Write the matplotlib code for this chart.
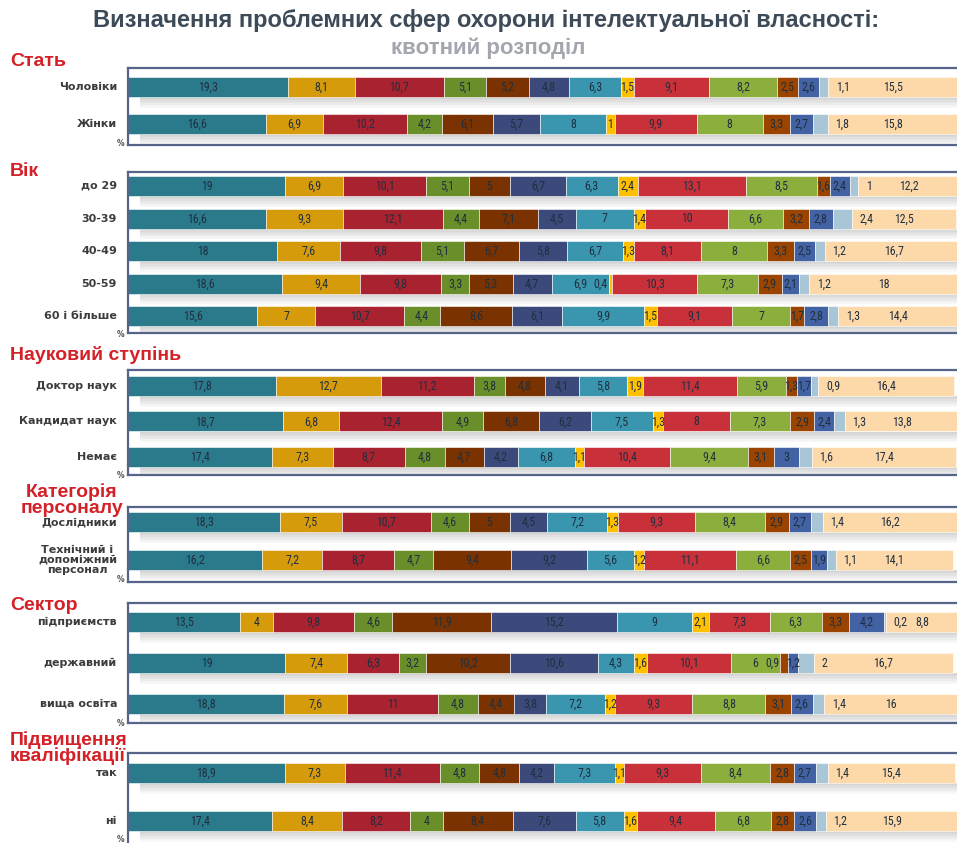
import matplotlib
matplotlib.use("Agg")
import matplotlib.pyplot as plt
from matplotlib import font_manager

# ---------------- data ----------------
sex_labels = ["Чоловіки", "Жінки"]
sex_values = [
    [19.3, 8.1, 10.7, 5.1, 5.2, 4.8, 6.3, 1.5, 9.1, 8.2, 2.5, 2.6, 1.1, 15.5],
    [16.6, 6.9, 10.2, 4.2, 6.1, 5.7, 8, 1, 9.9, 8, 3.3, 2.7, 1.8, 15.8],
]
age_labels = ["до 29", "30-39", "40-49", "50-59", "60 і більше"]
age_values = [
    [19, 6.9, 10.1, 5.1, 5, 6.7, 6.3, 2.4, 13.1, 8.5, 1.6, 2.4, 1, 12.2],
    [16.6, 9.3, 12.1, 4.4, 7.1, 4.5, 7, 1.4, 10, 6.6, 3.2, 2.8, 2.4, 12.5],
    [18, 7.6, 9.8, 5.1, 6.7, 5.8, 6.7, 1.3, 8.1, 8, 3.3, 2.5, 1.2, 16.7],
    [18.6, 9.4, 9.8, 3.3, 5.3, 4.7, 6.9, 0.4, 10.3, 7.3, 2.9, 2.1, 1.2, 18],
    [15.6, 7, 10.7, 4.4, 8.6, 6.1, 9.9, 1.5, 9.1, 7, 1.7, 2.8, 1.3, 14.4],
]
degree_labels = ["Доктор наук", "Кандидат наук", "Немає"]
degree_values = [
    [17.8, 12.7, 11.2, 3.8, 4.8, 4.1, 5.8, 1.9, 11.4, 5.9, 1.3, 1.7, 0.9, 16.4],
    [18.7, 6.8, 12.4, 4.9, 6.8, 6.2, 7.5, 1.3, 8, 7.3, 2.9, 2.4, 1.3, 13.8],
    [17.4, 7.3, 8.7, 4.8, 4.7, 4.2, 6.8, 1.1, 10.4, 9.4, 3.1, 3, 1.6, 17.4],
]
staff_labels = ["Дослідники", "Технічний і\nдопоміжний\nперсонал"]
staff_values = [
    [18.3, 7.5, 10.7, 4.6, 5, 4.5, 7.2, 1.3, 9.3, 8.4, 2.9, 2.7, 1.4, 16.2],
    [16.2, 7.2, 8.7, 4.7, 9.4, 9.2, 5.6, 1.2, 11.1, 6.6, 2.5, 1.9, 1.1, 14.1],
]
sector_labels = ["підприємств", "державний", "вища освіта"]
sector_values = [
    [13.5, 4, 9.8, 4.6, 11.9, 15.2, 9, 2.1, 7.3, 6.3, 3.3, 4.2, 0.2, 8.8],
    [19, 7.4, 6.3, 3.2, 10.2, 10.6, 4.3, 1.6, 10.1, 6, 0.9, 1.2, 2, 16.7],
    [18.8, 7.6, 11, 4.8, 4.4, 3.8, 7.2, 1.2, 9.3, 8.8, 3.1, 2.6, 1.4, 16],
]
train_labels = ["так", "ні"]
train_values = [
    [18.9, 7.3, 11.4, 4.8, 4.8, 4.2, 7.3, 1.1, 9.3, 8.4, 2.8, 2.7, 1.4, 15.4],
    [17.4, 8.4, 8.2, 4, 8.4, 7.6, 5.8, 1.6, 9.4, 6.8, 2.8, 2.6, 1.2, 15.9],
]
group_titles = ["Стать", "Вік", "Науковий ступінь", "Категорія\nперсоналу",
                "Сектор", "Підвищення\nкваліфікації"]

colors = ["#2B7A8B", "#D59B0B", "#A82230", "#6A8E2A", "#7A3300", "#3B4A7A",
          "#3A95AF", "#FFC000", "#C8313A", "#8BAE3D", "#9A4400", "#4262A3",
          "#A9C6D6", "#FDD8A8"]

# ---------------- layout (pixels) ----------------
W, H = 957, 843
# panel top, panel bottom, first row centre offset, row spacing
layout = [
    (68, 145, 19, 37),
    (172, 333, 14, 32.5),
    (370, 475, 16, 35.5),
    (507, 582, 15, 38),
    (603, 723, 19, 41),
    (753, 860, 20, 48),
]
title_pos = [(10, 62), (10, 171), (10, 355), (72, 500), (10, 606), (10, 748)]
groups = [
    (sex_labels, sex_values),
    (age_labels, age_values),
    (degree_labels, degree_values),
    (staff_labels, staff_values),
    (sector_labels, sector_values),
    (train_labels, train_values),
]

avail = {f.name for f in font_manager.fontManager.ttflist}
narrow_list = [f for f in ["Liberation Sans Narrow", "DejaVu Sans Condensed",
                           "Roboto Condensed", "Open Sans Condensed"] if f in avail]
narrow = narrow_list + ["DejaVu Sans"]
label_fs = 8.6 if narrow_list else 7.0

fig = plt.figure(figsize=(W / 100, H / 100), dpi=100)
fig.patch.set_facecolor("white")

fig.text(486 / W, 1 - 20 / H,
         "Визначення проблемних сфер охорони інтелектуальної власності:",
         ha="center", va="center", fontsize=17, fontweight="bold",
         color="#3D4A58", family=["Liberation Sans", "DejaVu Sans"])
fig.text(488 / W, 1 - 48 / H, "квотний розподіл", ha="center", va="center",
         fontsize=16, fontweight="bold", color="#A3A6AE",
         family=["Liberation Sans", "DejaVu Sans"])

left_px = 128
bar_h = 20
for gi, ((labels, values), (top, bot, off, sp)) in enumerate(zip(groups, layout)):
    ph = bot - top
    ax = fig.add_axes([left_px / W, 1 - bot / H, (W - left_px + 4) / W, ph / H])
    ax.set_xlim(0, 100.5)
    ax.set_ylim(ph, 0)
    ax.set_xticks([])
    ax.set_yticks([])
    for s in ax.spines.values():
        s.set_color("#56648A")
        s.set_linewidth(1.6)
    ys = [off + i * sp for i in range(len(labels))]
    for y, row, lab in zip(ys, values, labels):
        # shadow under the bar
        for k in range(7):
            ax.barh(y + bar_h / 2 + 1 + k * 1.5, 99, height=1.6, left=1.5,
                    color="#7A7A7A", alpha=0.32 * (1 - k / 7), lw=0)
        left = 0
        for j, (v, c) in enumerate(zip(row, colors)):
            ax.barh(y, v, left=left, height=bar_h, color=c,
                    edgecolor="white", linewidth=0.4)
            txt = f"{v:g}".replace(".", ",")
            if j == 12:
                ax.text(left + v + 0.9, y + 0.5, txt, ha="left", va="center",
                        fontsize=label_fs, color="#1F2F3F", family=narrow)
            elif v < 1.0:
                ax.text(left - 0.1, y + 0.5, txt, ha="right", va="center",
                        fontsize=label_fs, color="#1F2F3F", family=narrow)
            else:
                ax.text(left + v / 2, y + 0.5, txt, ha="center", va="center",
                        fontsize=label_fs, color="#1F2F3F", family=narrow)
            left += v
        # row label
        fig.text(117 / W, 1 - (top + y) / H, lab, ha="right", va="center",
                 fontsize=8, fontweight="bold", color="#3C3C3C",
                 multialignment="center", linespacing=0.95,
                 family=["DejaVu Sans"])
    # percent sign
    fig.text(117 / W, 1 - (top + ys[-1] + 19) / H, "%", ha="left", va="center",
             fontsize=5.5, fontweight="bold", color="#505050")
    # group title
    tx, ty = title_pos[gi]
    ha = "center" if gi == 3 else "left"
    fig.text(tx / W, 1 - ty / H, group_titles[gi], ha=ha, va="center",
             fontsize=14, fontweight="bold", color="#D42027",
             linespacing=0.92, family=["Liberation Sans", "DejaVu Sans"])

fig.savefig("out.png", dpi=100)
